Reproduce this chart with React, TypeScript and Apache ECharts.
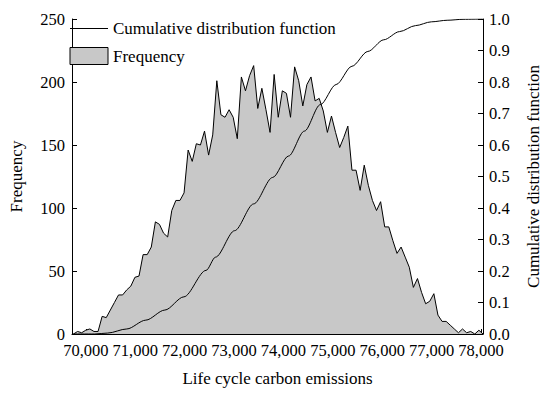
import React, { useEffect, useRef } from "react";
import * as echarts from "echarts";

// Frequency histogram (polygon) – bin layout
const binStart = 69750;
const binWidth = 82.9;
const frequency = [
  0, 2, 1, 3, 4, 2, 2, 14, 13, 19,
  25, 31, 31, 35, 38, 45, 46, 63, 63, 69,
  89, 87, 80, 77, 98, 106, 106, 112, 146, 137,
  151, 150, 161, 142, 158, 201, 174, 172, 178, 172,
  155, 204, 193, 205, 213, 179, 195, 178, 160, 206,
  172, 193, 191, 172, 212, 201, 181, 198, 204, 185,
  187, 177, 160, 173, 160, 148, 156, 165, 130, 130,
  114, 134, 118, 106, 98, 105, 85, 85, 74, 64,
  69, 61, 53, 37, 44, 33, 24, 26, 32, 15,
  10, 10, 7, 4, 1, 4, 1, 2, 0, 3, 0,
];

// Cumulative distribution function
const cdfX = [
  69723, 70179, 70443, 70829, 71214, 71599, 71985, 72434, 72626, 73012,
  73397, 73782, 74104, 74424, 74746, 75067, 75387, 75709, 76031, 76351,
  76673, 76994, 77314, 77636, 78035,
];
const cdfY = [
  0, 0, 0.003, 0.016, 0.044, 0.076, 0.118, 0.202, 0.244, 0.328,
  0.413, 0.497, 0.565, 0.644, 0.728, 0.792, 0.85, 0.897, 0.934, 0.96,
  0.979, 0.991, 0.996, 0.999, 1.0,
];

const xTicks = [70000, 71000, 72000, 73000, 74000, 75000, 76000, 77000, 78000];
const xMin = 69720;
const xMax = 78040;

const FONT = "Liberation Serif, Times New Roman, serif";

// thin horizontal line icon with a full-height bounding box
const LINE_ICON =
  "path://M0,0L38,0L38,0.001Z M0,8L38,8L38,9L0,9Z M0,17L38,17L38,17.001Z";

export default function App() {
  const ref = useRef<HTMLDivElement>(null);
  useEffect(() => {
    if (!ref.current) return;
    const chart = echarts.init(ref.current, null, { renderer: "svg" });
    const freqData = frequency.map((v, i) => [binStart + i * binWidth, v]);
    const cdfData = cdfX.map((x, i) => [x, cdfY[i]]);
    const axisLine = { show: true, lineStyle: { color: "#000", width: 1 } };
    const axisTick = { show: true, inside: true, length: 5, lineStyle: { color: "#000", width: 1 } };
    const labelStyle = { color: "#000", fontFamily: FONT, fontSize: 16.5 };
    const nameStyle = { fontFamily: FONT, fontSize: 17, color: "#000" };
    chart.setOption({
      animation: false,
      backgroundColor: "#fff",
      textStyle: { fontFamily: FONT, color: "#000" },
      grid: { left: 59, right: 59, top: 19, bottom: 60, containLabel: false },
      legend: {
        orient: "vertical",
        left: 64.5,
        top: 15,
        itemWidth: 38,
        itemHeight: 17,
        itemGap: 10,
        itemTextGap: 4,
        textStyle: { fontFamily: FONT, fontSize: 17, color: "#000" },
        data: [
          {
            name: "Cumulative distribution function",
            icon: LINE_ICON,
            itemStyle: { color: "#000", borderWidth: 0 },
          },
          {
            name: "Frequency",
            icon: "rect",
            itemStyle: { color: "#c8c8c8", borderColor: "#000", borderWidth: 1 },
          },
        ],
      },
      xAxis: {
        type: "value",
        min: xMin,
        max: xMax,
        name: "Life cycle carbon emissions",
        nameLocation: "middle",
        nameGap: 36,
        nameTextStyle: nameStyle,
        axisLine,
        axisTick: { ...axisTick, customValues: xTicks },
        axisLabel: {
          ...labelStyle,
          margin: 8,
          customValues: xTicks,
          formatter: (v: number) => v.toLocaleString("en-US"),
        },
        splitLine: { show: false },
      },
      yAxis: [
        {
          type: "value",
          min: 0,
          max: 250,
          interval: 50,
          name: "Frequency",
          nameLocation: "middle",
          nameGap: 47,
          nameTextStyle: nameStyle,
          axisLine,
          axisTick,
          axisLabel: { ...labelStyle, margin: 7 },
          splitLine: { show: false },
        },
        {
          type: "value",
          min: 0,
          max: 1,
          interval: 0.1,
          position: "right",
          name: "Cumulative distribution function",
          nameLocation: "middle",
          nameGap: 42,
          nameRotate: 90,
          nameTextStyle: nameStyle,
          axisLine,
          axisTick,
          axisLabel: { ...labelStyle, margin: 6, formatter: (v: number) => v.toFixed(1) },
          splitLine: { show: false },
        },
      ],
      series: [
        {
          name: "Frequency",
          type: "line",
          yAxisIndex: 0,
          data: freqData,
          symbol: "none",
          lineStyle: { color: "#000", width: 1 },
          itemStyle: { color: "#c8c8c8", borderColor: "#000" },
          areaStyle: { color: "#c8c8c8", opacity: 1 },
          z: 1,
        },
        {
          name: "Cumulative distribution function",
          type: "line",
          yAxisIndex: 1,
          data: cdfData,
          symbol: "none",
          smooth: 0.3,
          smoothMonotone: "x",
          lineStyle: { color: "#000", width: 1 },
          itemStyle: { color: "#000" },
          z: 2,
        },
      ],
    });
    return () => chart.dispose();
  }, []);
  return <div ref={ref} style={{ width: 550, height: 394, position: "absolute", left: 0, top: 0 }} />;
}
